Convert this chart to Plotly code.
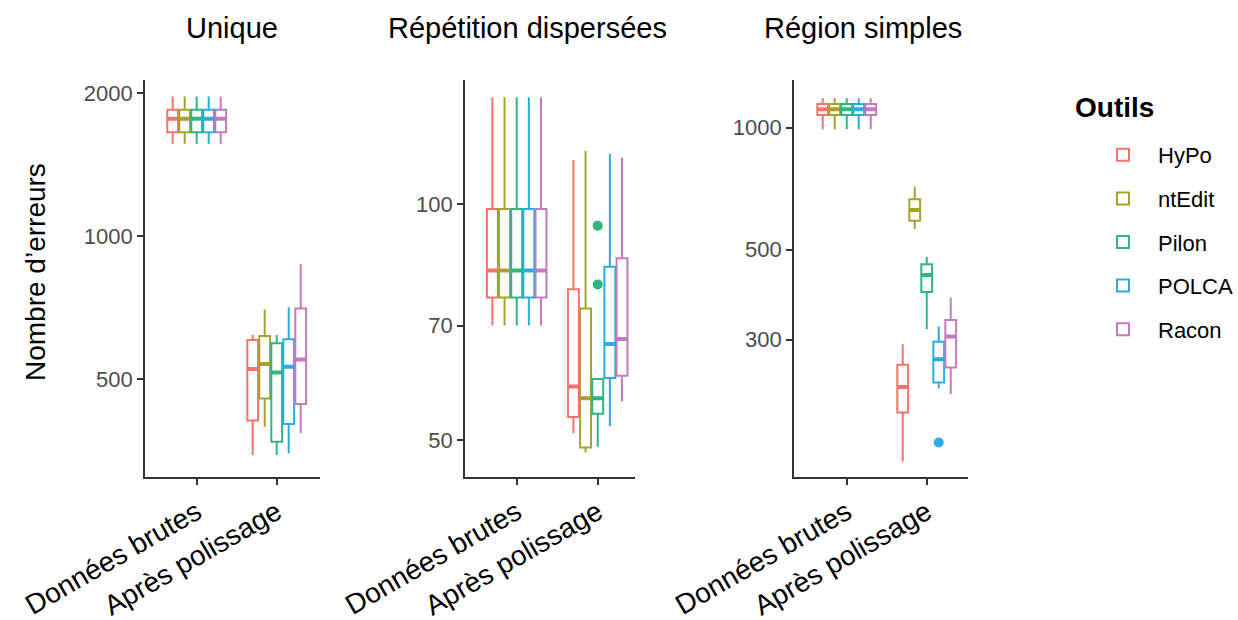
import plotly.graph_objects as go

# ---------------- data ----------------
categories = ["Données brutes", "Après polissage"]
tools = ["HyPo", "ntEdit", "Pilon", "POLCA", "Racon"]
colors = ["#F5736B", "#A3A32E", "#2DB77E", "#2CABE2", "#C37BBD"]
panel_titles = ["Unique", "Répétition dispersées", "Région simples"]

# Panel 1 : Unique  (per tool: [raw, after])
unique_lower = [[1562, 346], [1562, 397], [1562, 346], [1562, 349], [1562, 385]]
unique_q1 = [[1652, 409], [1652, 455], [1652, 369], [1652, 402], [1652, 443]]
unique_median = [[1764, 525], [1764, 538], [1764, 516], [1764, 531], [1764, 550]]
unique_q3 = [[1842, 604], [1842, 616], [1842, 595], [1842, 606], [1842, 704]]
unique_upper = [[1964, 619], [1964, 700], [1964, 619], [1964, 708], [1964, 872]]
unique_outliers = [[], [], [], [], []]

# Panel 2 : Répétition dispersées
repeat_lower = [[70.0, 51.0], [70.0, 48.2], [70.0, 49.0], [70.0, 52.1], [70.0, 56.0]]
repeat_q1 = [[76.0, 53.5], [76.0, 48.9], [76.0, 54.0], [76.0, 60.0], [76.0, 60.4]]
repeat_median = [[82.3, 58.5], [82.3, 56.5], [82.3, 56.5], [82.3, 66.3], [82.3, 67.3]]
repeat_q3 = [[98.6, 77.9], [98.6, 73.6], [98.6, 59.8], [98.6, 83.2], [98.6, 85.3]]
repeat_upper = [[137, 113.9], [137, 117.0], [137, 59.8], [137, 115.9], [137, 114.7]]
repeat_outliers = [[], [], [93.9, 79.0], [], []]

# Panel 3 : Région simples
simple_lower = [[991, 150], [991, 562], [991, 318], [991, 227], [991, 220]]
simple_q1 = [[1075, 198], [1075, 589], [1075, 393], [1075, 235], [1075, 256]]
simple_median = [[1110, 229], [1110, 626], [1110, 433], [1110, 268], [1110, 305]]
simple_q3 = [[1144, 260], [1144, 666], [1144, 460], [1144, 296], [1144, 335]]
simple_upper = [[1182, 292], [1182, 715], [1182, 480], [1182, 323], [1182, 381]]
simple_outliers = [[], [], [], [167], []]

# y tick values per panel
unique_ticks = [500, 1000, 2000]
repeat_ticks = [50, 70, 100]
simple_ticks = [300, 500, 1000]

# ---------------- figure ----------------
FONT = "Liberation Sans, Arial, sans-serif"
W, H = 1238, 620

panels = [
    (unique_lower, unique_q1, unique_median, unique_q3, unique_upper, unique_outliers, unique_ticks),
    (repeat_lower, repeat_q1, repeat_median, repeat_q3, repeat_upper, repeat_outliers, repeat_ticks),
    (simple_lower, simple_q1, simple_median, simple_q3, simple_upper, simple_outliers, simple_ticks),
]

fig = go.Figure()

for p, (lo, q1, med, q3, up, outl, ticks) in enumerate(panels):
    xa = "x" if p == 0 else f"x{p + 1}"
    ya = "y" if p == 0 else f"y{p + 1}"
    for t, tool in enumerate(tools):
        # main box
        fig.add_trace(go.Box(
            x=categories, q1=q1[t], median=med[t], q3=q3[t],
            lowerfence=lo[t], upperfence=up[t],
            name=tool, legendgroup=tool, showlegend=(p == 0),
            offsetgroup=tool, xaxis=xa, yaxis=ya,
            fillcolor="white", line=dict(color=colors[t], width=2),
            whiskerwidth=0, boxpoints=False, hoverinfo="skip",
        ))
    for t, tool in enumerate(tools):
        # thick median line overlay
        fig.add_trace(go.Box(
            x=categories, q1=med[t], median=med[t], q3=med[t],
            lowerfence=med[t], upperfence=med[t],
            name=tool, legendgroup=tool, showlegend=False,
            offsetgroup=tool, xaxis=xa, yaxis=ya,
            fillcolor="rgba(0,0,0,0)", line=dict(color=colors[t], width=4),
            whiskerwidth=0, boxpoints=False, hoverinfo="skip",
        ))
        # outliers
        if outl[t]:
            fig.add_trace(go.Box(
                x=[categories[1]] * len(outl[t]), y=outl[t],
                name=tool, legendgroup=tool, showlegend=False,
                offsetgroup=tool, xaxis=xa, yaxis=ya,
                fillcolor="rgba(0,0,0,0)", line=dict(color="rgba(0,0,0,0)", width=0),
                whiskerwidth=0, boxpoints="all", jitter=0, pointpos=0,
                marker=dict(color=colors[t], size=10), hoverinfo="skip",
            ))

# panel geometry (pixels)
x_dom_px = [(145, 320), (465, 635), (794, 968)]
x_ranges = [[-0.646, 1.541], [-0.638, 1.46], [-0.659, 1.516]]
y_ranges = [[2.493, 3.328], [1.6516, 2.1587], [2.1377, 3.1177]]
y_top_px, y_bot_px = 80, 477
y_dom = [1 - y_bot_px / H, 1 - y_top_px / H]

layout = dict(
    width=W, height=H,
    margin=dict(l=0, r=0, t=0, b=0),
    paper_bgcolor="white", plot_bgcolor="white",
    boxmode="group", boxgap=0.25, boxgroupgap=0.1,
    font=dict(family=FONT, color="black"),
    legend=dict(
        font=dict(size=22, family=FONT, color="black"),
        x=1088 / W, y=1 - 134 / H, xanchor="left", yanchor="top",
        traceorder="grouped", tracegroupgap=12, itemwidth=60,
        bgcolor="rgba(0,0,0,0)",
    ),
    showlegend=True,
)

for p in range(3):
    xk = "xaxis" if p == 0 else f"xaxis{p + 1}"
    yk = "yaxis" if p == 0 else f"yaxis{p + 1}"
    ya = "y" if p == 0 else f"y{p + 1}"
    xa = "x" if p == 0 else f"x{p + 1}"
    ticks = panels[p][6]
    layout[xk] = dict(
        domain=[x_dom_px[p][0] / W, x_dom_px[p][1] / W], anchor=ya,
        type="category", categoryorder="array", categoryarray=categories,
        range=x_ranges[p], showgrid=False, zeroline=False,
        showline=True, linecolor="#333333", linewidth=1.8,
        ticks="outside", ticklen=6, tickwidth=1.8, tickcolor="#333333",
        tickangle=-30, tickfont=dict(size=28, family=FONT, color="black"),
        automargin=False, fixedrange=True,
    )
    layout[yk] = dict(
        domain=y_dom, anchor=xa, type="log", range=y_ranges[p],
        tickvals=ticks, ticktext=[str(v) for v in ticks],
        showgrid=False, zeroline=False,
        showline=True, linecolor="#333333", linewidth=1.8,
        ticks="outside", ticklen=6, tickwidth=1.8, tickcolor="#333333",
        tickfont=dict(size=22, family=FONT, color="#4D4D4D"),
        automargin=False, fixedrange=True,
    )

fig.update_layout(**layout)

title_x_px = [232, 527, 863]
for p in range(3):
    fig.add_annotation(
        text=panel_titles[p], x=title_x_px[p] / W, y=1 - 28 / H,
        xref="paper", yref="paper", xanchor="center", yanchor="middle",
        showarrow=False, font=dict(size=29, family=FONT, color="black"),
    )

# legend title
fig.add_annotation(
    text="<b>Outils</b>", x=1073 / W, y=1 - 107 / H,
    xref="paper", yref="paper", xanchor="left", yanchor="middle",
    showarrow=False, font=dict(size=28, family=FONT, color="black"),
)

fig.add_annotation(
    text="Nombre d’erreurs", x=35 / W, y=1 - 272 / H,
    xref="paper", yref="paper", xanchor="center", yanchor="middle",
    textangle=-90, showarrow=False, font=dict(size=28, family=FONT, color="black"),
)

fig.write_html("out.html")
